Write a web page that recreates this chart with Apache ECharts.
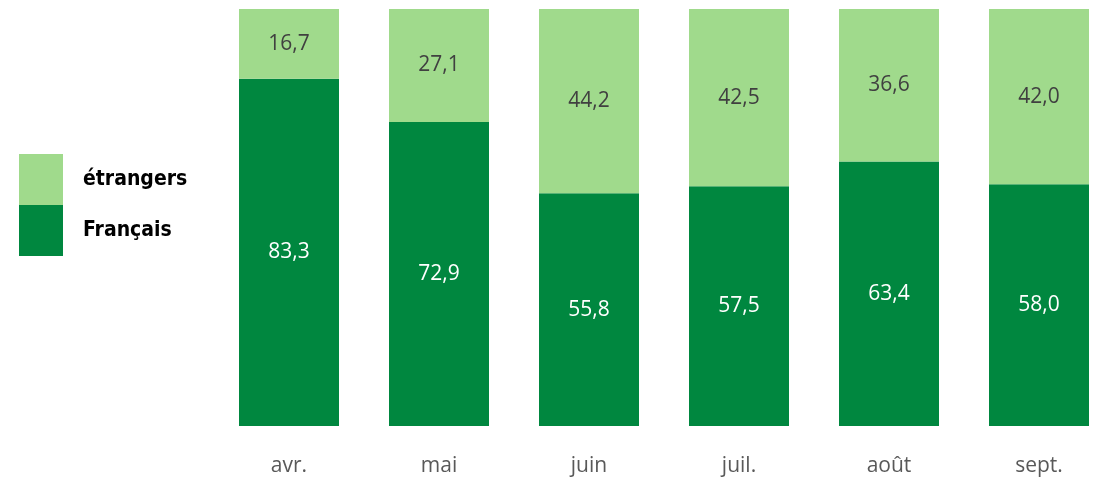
<!DOCTYPE html>
<html>
<head>
<meta charset="utf-8">
<script src="https://cdn.jsdelivr.net/npm/echarts@6/dist/echarts.min.js"></script>
<style>
  html, body { margin: 0; padding: 0; background: #fff; }
  #main { width: 1099px; height: 477px; }
</style>
</head>
<body>
<div id="main"></div>
<script>
// mois
const months = ['avr.', 'mai', 'juin', 'juil.', 'août', 'sept.'];
// parts en %
const francais = [83.3, 72.9, 55.8, 57.5, 63.4, 58.0];
const etrangers = [16.7, 27.1, 44.2, 42.5, 36.6, 42.0];

const dark = '#00873f';
const light = '#a0da8c';
const fmt = (p) => p.value.toFixed(1).replace('.', ',');

const chart = echarts.init(document.getElementById('main'));
chart.setOption({
  animation: false,
  textStyle: { fontFamily: 'Open Sans' },
  legend: {
    orient: 'vertical',
    left: 19,
    top: 154,
    padding: 0,
    itemWidth: 44,
    itemHeight: 51,
    itemGap: 0,
    icon: 'rect',
    data: ['étrangers', 'Français'],
    textStyle: {
      fontFamily: "'DejaVu Sans Condensed', 'DejaVu Sans'",
      fontWeight: 'bold',
      fontSize: 21,
      color: '#000',
      padding: [8, 0, 0, 15]
    }
  },
  // categories placed on grid edges so the band spacing is exactly 150px
  grid: { left: 289, right: 60, top: 9, bottom: 50 },
  xAxis: {
    type: 'category',
    data: months,
    boundaryGap: false,
    axisLine: { show: false },
    axisTick: { show: false },
    axisLabel: { color: '#595959', fontSize: 21, margin: 30 }
  },
  yAxis: {
    type: 'value',
    min: 0,
    max: 100,
    show: false,
    splitLine: { show: false }
  },
  series: [
    {
      name: 'Français',
      type: 'bar',
      stack: 'total',
      barWidth: 100,
      clip: false,
      data: francais,
      itemStyle: { color: dark },
      label: { show: true, position: 'inside', color: '#fff', fontSize: 21, formatter: fmt }
    },
    {
      name: 'étrangers',
      type: 'bar',
      stack: 'total',
      barWidth: 100,
      clip: false,
      data: etrangers,
      itemStyle: { color: light },
      label: { show: true, position: 'inside', color: '#404040', fontSize: 21, formatter: fmt }
    }
  ]
});
</script>
</body>
</html>
